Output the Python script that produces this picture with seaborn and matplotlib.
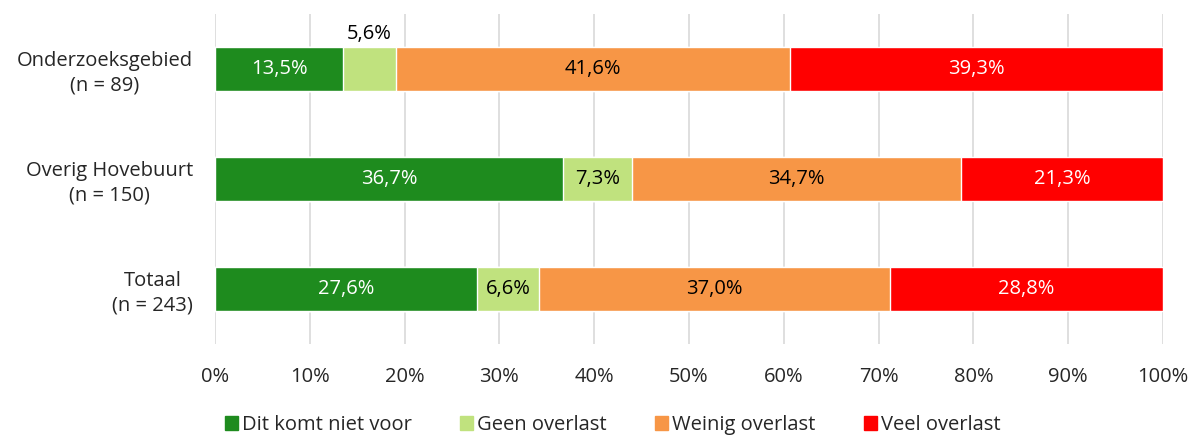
import matplotlib
matplotlib.use("Agg")
import matplotlib.pyplot as plt
import matplotlib.patches as mpatches
import numpy as np
import pandas as pd
import seaborn as sns

# Data
groups = ["Onderzoeksgebied\n(n = 89)", "Overig Hovebuurt\n(n = 150)", "Totaal\n(n = 243)"]
series = ["Dit komt niet voor", "Geen overlast", "Weinig overlast", "Veel overlast"]
niet_voor = [13.5, 36.7, 27.6]
geen = [5.6, 7.3, 6.6]
weinig = [41.6, 34.7, 37.0]
veel = [39.3, 21.3, 28.8]
x_ticks = [0, 10, 20, 30, 40, 50, 60, 70, 80, 90, 100]

colors = ["#1E8B1E", "#C0E27E", "#F79646", "#FF0000"]
text_colors = ["white", "black", "black", "white"]

sns.set_theme(style="white")
plt.rcParams["font.family"] = ["Open Sans", "DejaVu Sans"]

values = np.array([niet_voor, geen, weinig, veel])
cum = values.cumsum(axis=0)

fig, ax = plt.subplots(figsize=(11.9, 4.38), dpi=100)
fig.subplots_adjust(left=0.1807, right=0.9773, top=0.968, bottom=0.215)

# stacked bars: draw cumulative totals from largest to smallest
for i in range(len(series) - 1, -1, -1):
    df = pd.DataFrame({"groep": groups, "waarde": cum[i]})
    sns.barplot(data=df, x="waarde", y="groep", orient="h", color=colors[i],
                width=0.4, saturation=1, ax=ax, zorder=3)

# labels
fs = 14.5
for i in range(len(series)):
    for j in range(len(groups)):
        v = values[i, j]
        xc = cum[i, j] - v / 2
        label = f"{v:.1f}%".replace(".", ",")
        if v < 6:
            ax.text(xc, j - 0.23, label, ha="center", va="bottom", fontsize=fs, color="black")
        else:
            ax.text(xc, j, label, ha="center", va="center", fontsize=fs, color=text_colors[i], zorder=4)

ax.set_xlim(0, 100)
ax.set_ylim(2.5, -0.5)
ax.set_xticks(x_ticks)
ax.set_xticklabels([f"{t}%" for t in x_ticks], fontsize=fs)
ax.tick_params(axis="y", labelsize=fs, length=0, pad=16)
ax.tick_params(axis="x", length=0, pad=17)
for lbl in ax.get_yticklabels():
    lbl.set_multialignment("center")
    lbl.set_linespacing(1.3)
ax.set_xlabel("")
ax.set_ylabel("")
ax.xaxis.grid(True, color="#D9D9D9", linewidth=1.2, zorder=0)
ax.set_axisbelow(True)
for s in ax.spines.values():
    s.set_visible(False)

handles = [mpatches.Patch(color=c, label=s) for c, s in zip(colors, series)]
fig.legend(handles=handles, loc="lower center", ncol=4, frameon=False, fontsize=fs,
           bbox_to_anchor=(0.515, -0.035), handlelength=0.65, handleheight=0.65,
           handletextpad=0.2, columnspacing=2.4)

fig.savefig("out.png", dpi=100)
